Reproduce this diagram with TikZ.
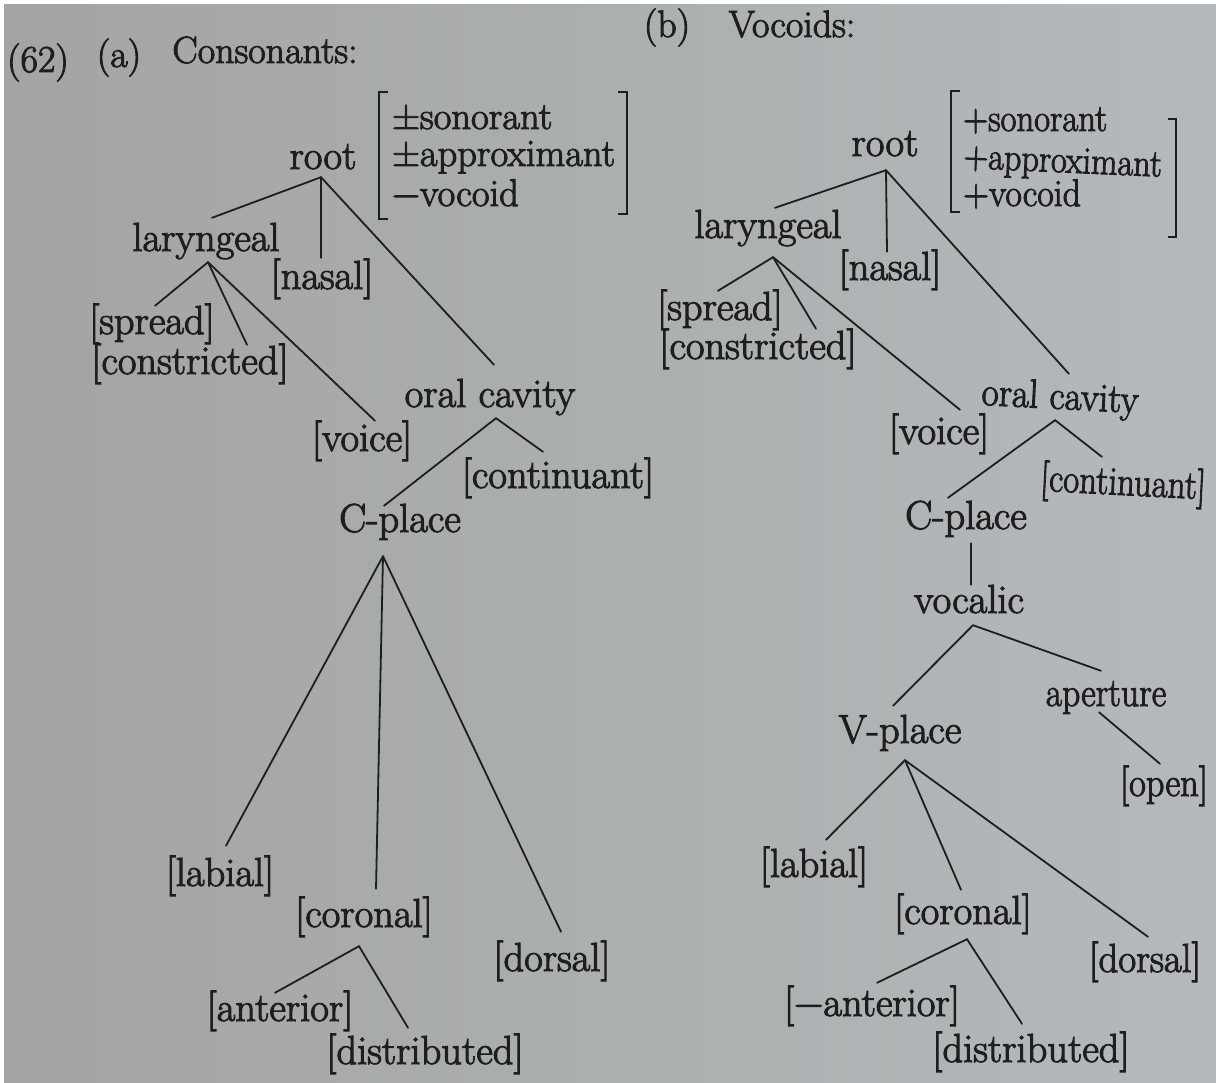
\documentclass[tikz,border=0pt]{standalone}
\usepackage{fontspec}
\usepackage{graphicx}
\setmainfont{Latin Modern Roman}[FakeBold=2.5]
\definecolor{ink}{RGB}{30,30,32}
\definecolor{pageL}{RGB}{163,165,163}
\definecolor{pageR}{RGB}{181,185,188}
\newcommand{\lbsize}{\fontsize{40.5}{44}\selectfont}
\newcommand{\hdsize}{\fontsize{38}{42}\selectfont}
\newcommand{\ftsize}{\fontsize{38.5}{42}\selectfont}
% horizontally narrowed label (page curving away at the right edge)
\newcommand{\narrow}[2]{\scalebox{#1}[1]{#2}}
\begin{document}
\begin{tikzpicture}[x=1pt,y=-1pt,
  lbl/.style={inner sep=0pt, text height=26pt, text depth=8pt, font=\lbsize, text=ink},
  hd/.style={inner sep=0pt, anchor=base, font=\hdsize, text=ink},
  feat/.style={inner sep=0pt, anchor=base west, font=\ftsize, text=ink},
  edge/.style={draw=ink, line width=1.8pt, line cap=round},
  brk/.style={draw=ink, line width=1.8pt}]
% page
\useasboundingbox (0,0) rectangle (1216,1083);
\fill[white] (0,0) rectangle (1216,1083);
\shade[left color=pageL, right color=pageR] (4,5) rectangle (1216,1083);

% ---------- headings ----------
\node[hd] (num) at (38,72) {(62)};
\node[hd] (pa) at (119,67) {(a)};
\node[hd] (consT) at (265,63) {Consonants:};
\node[hd] (pb) at (667,37) {(b)};
\node[hd] (vocT) at (792,37) {Vocoids:};

% ---------- (a) consonants ----------
\node[lbl] (rootL) at (323,160) {root};
\node[feat] (fL1) at (392,129) {±sonorant};
\node[feat] (fL2) at (392,166) {±approximant};
\node[feat] (fL3) at (392,206) {−vocoid};
\draw[brk] (388,92) -- (379,92) -- (379,219) -- (388,219);
\draw[brk] (618,92) -- (627,92) -- (627,214) -- (618,214);

\node[lbl] (larL) at (206,242) {laryngeal};
\node[lbl] (nasL) at (322,280) {[nasal]};
\node[lbl] (oralL) at (490,398) {oral cavity};
\node[lbl] (sprL) at (152,325) {[spread]};
\node[lbl] (conL) at (190,365) {[constricted]};
\node[lbl] (voiL) at (362,442) {[voice]};
\node[lbl] (contL) at (558,479) {[continuant]};
\node[lbl] (cplL) at (400,523) {C-place};
\node[lbl] (labL) at (220,877) {[labial]};
\node[lbl] (corL) at (364,918) {[coronal]};
\node[lbl] (dorL) at (552,962) {[dorsal]};
\node[lbl] (antL) at (280,1012) {[anterior]};
\node[lbl] (disL) at (425,1055) {[distributed]};

\draw[edge] ([shift={(-2,0)}]rootL.south) -- ([shift={(6,-7)}]larL.north);
\draw[edge] ([shift={(-2,0)}]rootL.south) -- ([shift={(-1,-5)}]nasL.north);
\draw[edge] ([shift={(-2,0)}]rootL.south) -- ([shift={(4,-16)}]oralL.north);
\draw[edge] ([shift={(2,3)}]larL.south) -- ([shift={(3,-2)}]sprL.north);
\draw[edge] ([shift={(2,3)}]larL.south) -- ([shift={(57,-3)}]conL.north);
\draw[edge] ([shift={(2,3)}]larL.south) -- ([shift={(13,-4)}]voiL.north);
\draw[edge] ([shift={(6,3)}]oralL.south) -- ([shift={(-16,0)}]cplL.north);
\draw[edge] ([shift={(6,3)}]oralL.south) -- ([shift={(-15,-10)}]contL.north);
\draw[edge] ([shift={(-17,16)}]cplL.south) -- ([shift={(6,-14)}]labL.north);
\draw[edge] ([shift={(-17,16)}]cplL.south) -- ([shift={(12,-12)}]corL.north);
\draw[edge] ([shift={(-17,16)}]cplL.south) -- ([shift={(9,-13)}]dorL.north);
\draw[edge] ([shift={(-5,11)}]corL.south) -- ([shift={(-5,-2)}]antL.north);
\draw[edge] ([shift={(-5,11)}]corL.south) -- ([shift={(-17,-10)}]disL.north);

% ---------- (b) vocoids ----------
\node[lbl] (rootR) at (885,147) {root};
\node[feat] (fR1) at (963,131) {\narrow{0.9}{+sonorant}};
\node[feat, rotate=-2.5] (fR2) at (963,168) {\narrow{0.89}{+approximant}};
\node[feat] (fR3) at (963,206) {\narrow{0.93}{+vocoid}};
\draw[brk] (960,91) -- (951,91) -- (951,212) -- (960,212);
\draw[brk] (1168,119) -- (1176,119) -- (1176,237) -- (1168,237);

\node[lbl] (larR) at (768,229) {laryngeal};
\node[lbl] (nasR) at (890,271) {[nasal]};
\node[lbl, rotate=-3] (oralR) at (1060,400) {\narrow{0.92}{oral cavity}};
\node[lbl] (sprR) at (720,311) {[spread]};
\node[lbl] (conR) at (758,350) {[constricted]};
\node[lbl] (voiR) at (939,435) {[voice]};
\node[lbl, rotate=-3] (contR) at (1123,486) {\narrow{0.86}{[continuant]}};
\node[lbl] (cplR) at (966,520) {C-place};
\node[lbl] (vocR) at (969,604) {vocalic};
\node[lbl] (vplR) at (900,734) {V-place};
\node[lbl] (aprR) at (1106,697) {\narrow{0.88}{aperture}};
\node[lbl] (opnR) at (1164,787) {\narrow{0.9}{[open]}};
\node[lbl] (labR) at (814,868) {[labial]};
\node[lbl] (corR) at (963,915) {[coronal]};
\node[lbl] (dorR) at (1145,963) {\narrow{0.96}{[dorsal]}};
\node[lbl] (antR) at (872,1007) {[−anterior]};
\node[lbl] (disR) at (1031,1053) {[distributed]};

\draw[edge] ([shift={(1,6)}]rootR.south) -- ([shift={(7,-4)}]larR.north);
\draw[edge] ([shift={(1,6)}]rootR.south) -- ([shift={(-3,-2)}]nasR.north);
\draw[edge] ([shift={(1,6)}]rootR.south) -- ([shift={(8,-9)}]oralR.north);
\draw[edge] ([shift={(5,11)}]larR.south) -- ([shift={(-2,-3)}]sprR.north);
\draw[edge] ([shift={(5,11)}]larR.south) -- ([shift={(58,-4)}]conR.north);
\draw[edge] ([shift={(5,11)}]larR.south) -- ([shift={(21,-8)}]voiR.north);
\draw[edge] ([shift={(-4,3)}]oralR.south) -- ([shift={(-18,-5)}]cplR.north);
\draw[edge] ([shift={(-4,3)}]oralR.south) -- ([shift={(-22,-12)}]contR.north);
\draw[edge] ([shift={(5,6)}]cplR.south) -- ([shift={(2,-2)}]vocR.north);
\draw[edge] ([shift={(4,4)}]vocR.south) -- ([shift={(-7,-11)}]vplR.north);
\draw[edge] ([shift={(4,4)}]vocR.south) -- ([shift={(-5,-9)}]aprR.north);
\draw[edge] ([shift={(-7,-2)}]aprR.south) -- ([shift={(-4,-6)}]opnR.north);
\draw[edge] ([shift={(5,9)}]vplR.south) -- ([shift={(12,-11)}]labR.north);
\draw[edge] ([shift={(5,9)}]vplR.south) -- ([shift={(-2,-8)}]corR.north);
\draw[edge] ([shift={(5,9)}]vplR.south) -- ([shift={(3,-9)}]dorR.north);
\draw[edge] ([shift={(4,7)}]corR.south) -- ([shift={(5,-7)}]antR.north);
\draw[edge] ([shift={(4,7)}]corR.south) -- ([shift={(-9,-12)}]disR.north);
\end{tikzpicture}
\end{document}
